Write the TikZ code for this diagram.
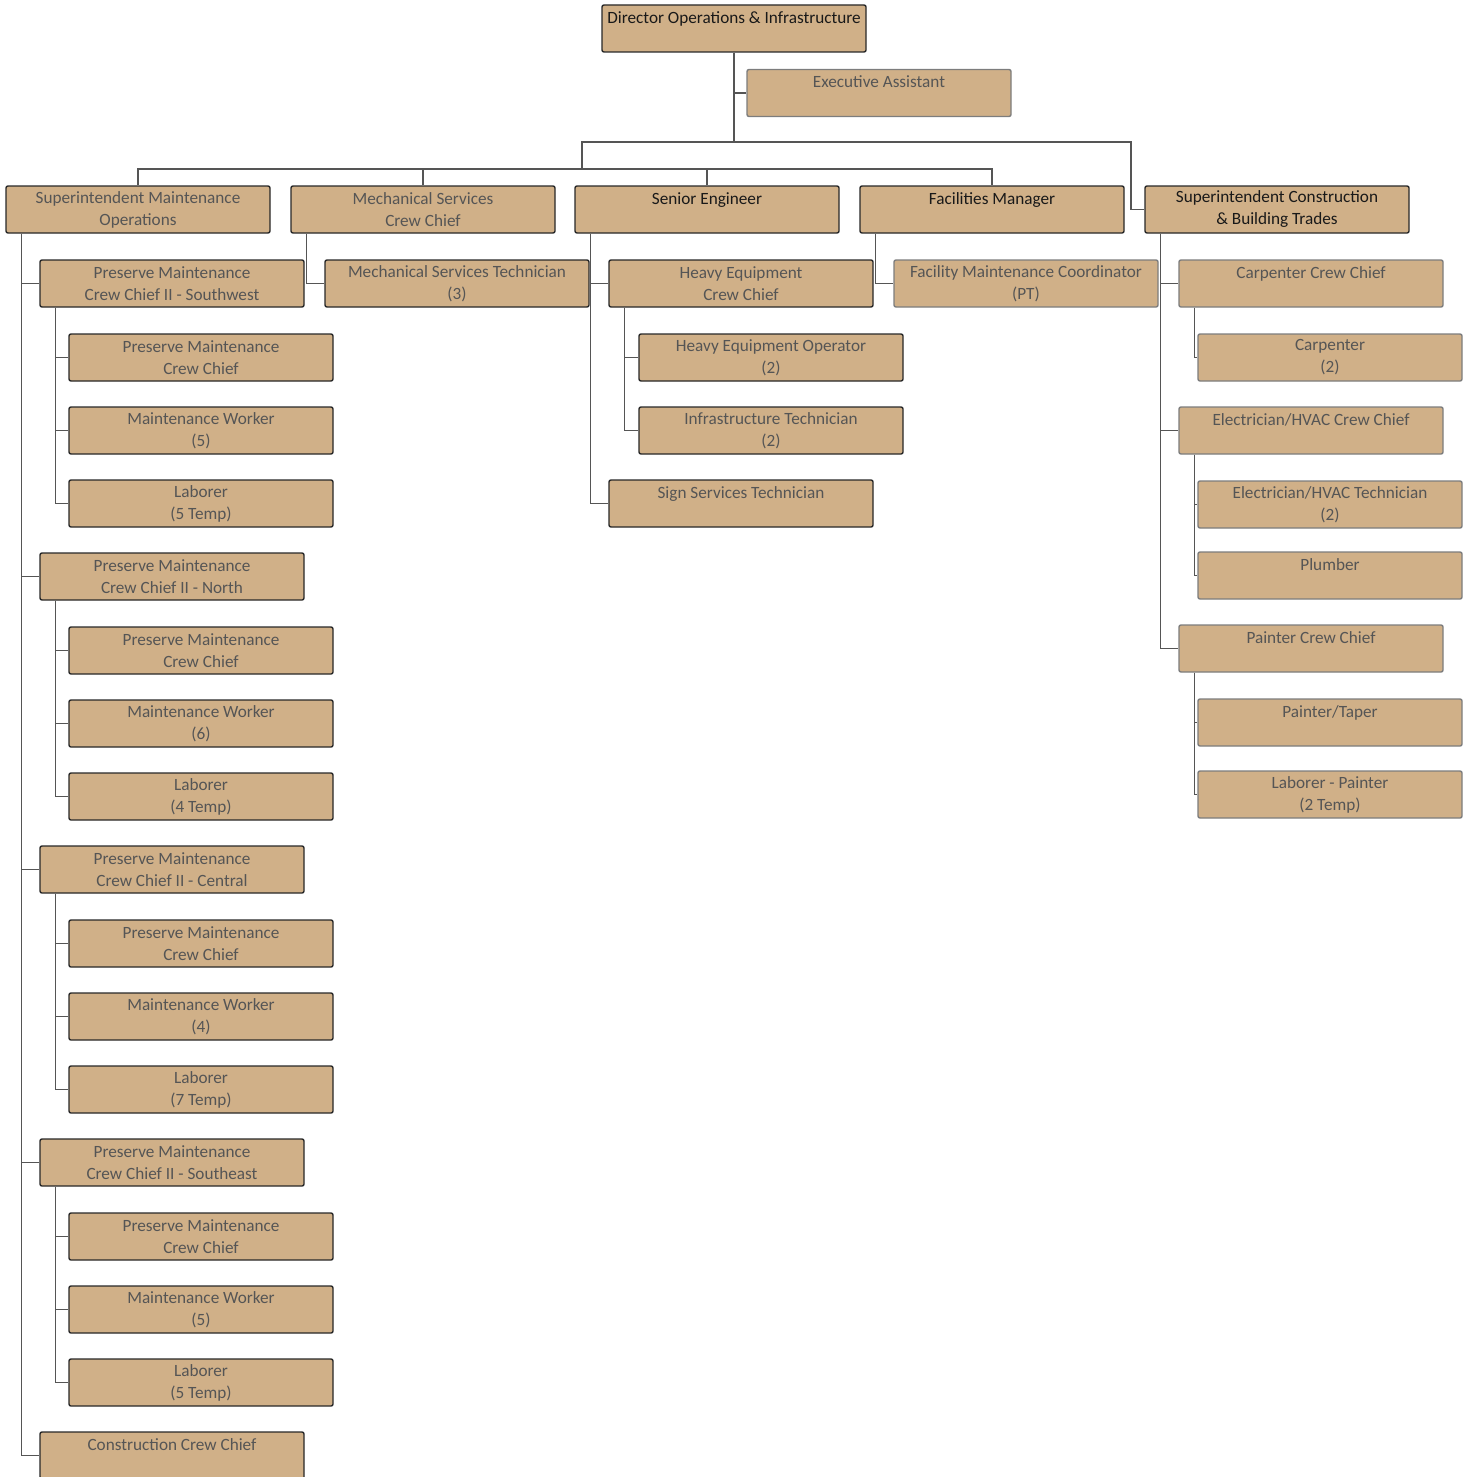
\documentclass[tikz,border=0pt]{standalone}
\usepackage{fontspec}
\setmainfont{Carlito}
\definecolor{tan}{RGB}{208,176,136}
\definecolor{txtgrey}{RGB}{85,85,85}
\definecolor{txtdark}{RGB}{25,25,25}
\definecolor{bdark}{RGB}{40,40,40}
\definecolor{blight}{RGB}{125,125,125}
\definecolor{conn}{RGB}{85,85,85}
\begin{document}
\begin{tikzpicture}[x=0.5pt,y=-0.5pt,
  box/.style={draw=bdark, line width=0.7pt, fill=tan, rounded corners=1pt,
    minimum width=132pt, minimum height=23.5pt, inner sep=0pt,
    align=center, text=txtgrey, font=\fontsize{8.6}{11}\selectfont},
  lbox/.style={box, draw=blight},
  boss/.style={text=txtdark},
  link/.style={draw=conn, line width=0.75pt}]
\useasboundingbox (0,0) rectangle (1468,1477);

% top
\node[box,boss] (dir) at (734,28.5) {Director Operations \& Infrastructure\\\mbox{}};
\node[lbox] (ea) at (879,93) {Executive Assistant\\\mbox{}};

% level 1
\node[box] (smo) at (138,209.5) {Superintendent Maintenance\\Operations};
\node[box] (mscc) at (423,209.5) {Mechanical Services\\Crew Chief};
\node[box,boss] (se) at (707,209.5) {Senior Engineer\\\mbox{}};
\node[box,boss] (fm) at (992,209.5) {Facilities Manager\\\mbox{}};
\node[box,boss] (scbt) at (1277,209.5) {Superintendent Construction\\\& Building Trades};

% level 2
\node[box] (sw) at (172,283.5) {Preserve Maintenance\\Crew Chief II - Southwest};
\node[box] (mst) at (457,283.5) {Mechanical Services Technician\\(3)};
\node[box] (hecc) at (741,283.5) {Heavy Equipment\\Crew Chief};
\node[lbox] (fmc) at (1026,283.5) {Facility Maintenance Coordinator\\(PT)};
\node[lbox] (ccc) at (1311,283.5) {Carpenter Crew Chief\\\mbox{}};

% southwest group
\node[box] (swa) at (201,357.5) {Preserve Maintenance\\Crew Chief};
\node[box] (swb) at (201,430.5) {Maintenance Worker\\(5)};
\node[box] (swc) at (201,503.5) {Laborer\\(5 Temp)};
% north group
\node[box] (no) at (172,576.5) {Preserve Maintenance\\Crew Chief II - North};
\node[box] (noa) at (201,650.5) {Preserve Maintenance\\Crew Chief};
\node[box] (nob) at (201,723.5) {Maintenance Worker\\(6)};
\node[box] (noc) at (201,796.5) {Laborer\\(4 Temp)};
% central group
\node[box] (ce) at (172,869.5) {Preserve Maintenance\\Crew Chief II - Central};
\node[box] (cea) at (201,943.5) {Preserve Maintenance\\Crew Chief};
\node[box] (ceb) at (201,1016.5) {Maintenance Worker\\(4)};
\node[box] (cec) at (201,1089.5) {Laborer\\(7 Temp)};
% southeast group
\node[box] (sea) at (172,1162.5) {Preserve Maintenance\\Crew Chief II - Southeast};
\node[box] (seaa) at (201,1236.5) {Preserve Maintenance\\Crew Chief};
\node[box] (seab) at (201,1309.5) {Maintenance Worker\\(5)};
\node[box] (seac) at (201,1382.5) {Laborer\\(5 Temp)};
% construction
\node[box] (cons) at (172,1455.5) {Construction Crew Chief\\\mbox{}};

% engineer group
\node[box] (heo) at (771,357.5) {Heavy Equipment Operator\\(2)};
\node[box] (it) at (771,430.5) {Infrastructure Technician\\(2)};
\node[box] (sst) at (741,503.5) {Sign Services Technician\\\mbox{}};

% construction trades
\node[lbox] (carp) at (1330,357.5) {Carpenter\\(2)};
\node[lbox] (ecc) at (1311,430.5) {Electrician/HVAC Crew Chief\\\mbox{}};
\node[lbox] (etech) at (1330,504.5) {Electrician/HVAC Technician\\(2)};
\node[lbox] (plum) at (1330,575.5) {Plumber\\\mbox{}};
\node[lbox] (pcc) at (1311,648.5) {Painter Crew Chief\\\mbox{}};
\node[lbox] (pt) at (1330,722.5) {Painter/Taper\\\mbox{}};
\node[lbox] (lp) at (1330,794.5) {Laborer - Painter\\(2 Temp)};

% connectors at the top
\coordinate (j1) at (734,142);
\coordinate (j2) at (582,169);
\coordinate (j3) at (1131,142);
\draw[link] (dir.south) -- (j1);
\draw[link] (dir.south) |- (ea.west);
\draw[link] (j2) |- (j3) |- (scbt.west);
\draw[link] (smo.north) |- (fm.north |- j2) -- (fm.north);
\draw[link] (mscc.north) -- (mscc.north |- j2);
\draw[link] (se.north) -- (se.north |- j2);

% elbow connectors
\foreach \p/\c in {smo/sw, smo/no, smo/ce, smo/sea, smo/cons,
  sw/swa, sw/swb, sw/swc, no/noa, no/nob, no/noc,
  ce/cea, ce/ceb, ce/cec, sea/seaa, sea/seab, sea/seac,
  mscc/mst, se/hecc, se/sst, hecc/heo, hecc/it, fm/fmc,
  scbt/ccc, scbt/ecc, scbt/pcc, ccc/carp, ecc/etech, ecc/plum,
  pcc/pt, pcc/lp}
  \draw[link] ([xshift=8pt]\p.south west) |- (\c.west);
\end{tikzpicture}
\end{document}
